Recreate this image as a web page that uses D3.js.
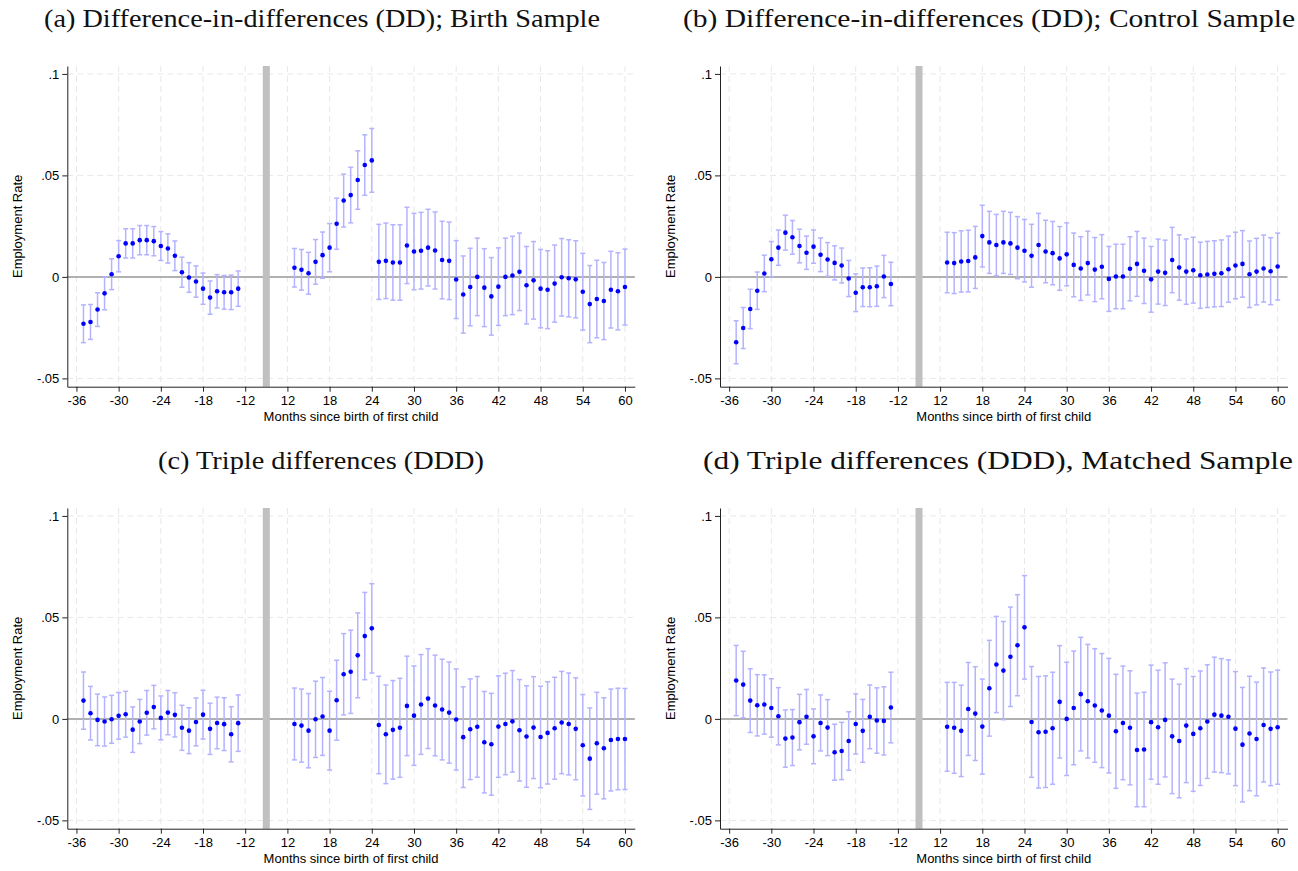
<!DOCTYPE html>
<html lang="en">
<head>
<meta charset="UTF-8">
<title>Employment Rate around first birth</title>
<script src="https://d3js.org/d3.v7.min.js"></script>
<style>
    body { margin: 0; background: white; }
    svg { display: block; background: white; }
    .title { font-family: "Liberation Serif", "Times New Roman", serif; font-size: 25px; fill: #111; }
    .axis text { font-family: "Liberation Sans", Arial, sans-serif; font-size: 13px; fill: #000; }
    .axis path, .axis line { stroke: #222; stroke-width: 1px; }
    .grid line { stroke: #e8e8e8; stroke-width: 1px; stroke-dasharray: 6,4; }
    .lab { font-family: "Liberation Sans", Arial, sans-serif; font-size: 13px; fill: #000; }
    .ci { stroke: #b3b3ff; stroke-width: 1.5px; fill: none; }
    .dot { fill: #0000ff; }
    .zero { stroke: #b0b0b0; stroke-width: 2px; }
    .gap { fill: #c0c0c0; }
</style>
</head>
<body>
<script>
// months relative to first birth (the axis skips -12..12)
const months = [-35,-34,-33,-32,-31,-30,-29,-28,-27,-26,-25,-24,-23,-22,-21,-20,-19,-18,-17,-16,-15,-14,-13,
    13,14,15,16,17,18,19,20,21,22,23,24,25,26,27,28,29,30,31,32,33,34,35,36,
    37,38,39,40,41,42,43,44,45,46,47,48,49,50,51,52,53,54,55,56,57,58,59,60];
const tickMonths = [-36,-30,-24,-18,-12,12,18,24,30,36,42,48,54,60];
const yTicks = [-0.05, 0, 0.05, 0.1];

const titles = [
    "(a) Difference-in-differences (DD); Birth Sample",
    "(b) Difference-in-differences (DD); Control Sample",
    "(c) Triple differences (DDD)",
    "(d) Triple differences (DDD), Matched Sample"
];

// point estimates and half-width of the 95% CI, panel a
const estA = [-.0231,-.0222,-.0161,-.0081,.0013,.0102,.0165,.0165,.0181,.0181,.0176,.0152,.0140,.0104,.0023,-.0003,-.0023,-.0058,-.0102,-.0071,-.0076,-.0076,-.0058,
    .0045,.0035,.0018,.0074,.0107,.0144,.0262,.0376,.0403,.0477,.0551,.0574,
    .0074,.0079,.0071,.0071,.0155,.0125,.0129,.0144,.0130,.0083,.0079,-.0013,
    -.0087,-.0050,.0000,-.0053,-.0096,-.0048,.0000,.0007,.0025,-.0041,-.0017,-.0058,
    -.0063,-.0033,-.0002,-.0007,-.0012,-.0073,-.0134,-.0109,-.0119,-.0063,-.0071,-.0050];
const ciA = [.0093,.0086,.0083,.0081,.0076,.0077,.0072,.0072,.0072,.0072,.0072,.0071,.0072,.0073,.0074,.0073,.0077,.0077,.0082,.0082,.0083,.0085,.0087,
    .0095,.0100,.0103,.0110,.0114,.0119,.0126,.0130,.0137,.0144,.0149,.0157,
    .0185,.0186,.0186,.0186,.0188,.0188,.0189,.0189,.0190,.0191,.0191,.0192,
    .0190,.0191,.0191,.0192,.0191,.0191,.0191,.0193,.0191,.0191,.0191,.0193,
    .0192,.0190,.0191,.0190,.0190,.0189,.0190,.0191,.0190,.0189,.0190,.0187];

// panel b
const estB = [-.0322,-.0252,-.0158,-.0068,.0017,.0087,.0144,.0218,.0195,.0152,.0119,.0149,.0109,.0086,.0069,.0056,-.0008,-.0078,-.0051,-.0051,-.0046,.0002,-.0035,
    .0071,.0068,.0076,.0078,.0096,.0201,.0170,.0157,.0170,.0165,.0144,.0129,
    .0104,.0157,.0125,.0117,.0091,.0111,.0059,.0041,.0068,.0036,.0050,-.0010,
    .0002,.0002,.0040,.0064,.0030,-.0012,.0026,.0020,.0083,.0046,.0026,.0033,
    .0008,.0012,.0015,.0018,.0038,.0056,.0064,.0013,.0026,.0041,.0028,.0051];
const ciB = [.0106,.0101,.0097,.0092,.0090,.0087,.0087,.0086,.0083,.0083,.0082,.0082,.0083,.0083,.0084,.0086,.0089,.0093,.0095,.0096,.0099,.0104,.0107,
    .0149,.0150,.0151,.0152,.0153,.0152,.0153,.0151,.0153,.0153,.0153,.0154,
    .0155,.0156,.0154,.0156,.0157,.0155,.0157,.0157,.0157,.0158,.0158,.0160,
    .0159,.0159,.0158,.0160,.0161,.0162,.0160,.0161,.0161,.0161,.0161,.0162,
    .0163,.0163,.0163,.0164,.0163,.0164,.0164,.0164,.0164,.0165,.0165,.0165];

// panel c
const estC = [.0090,.0028,-.0005,-.0013,-.0002,.0015,.0023,-.0053,-.0013,.0030,.0058,.0005,.0031,.0020,-.0044,-.0058,-.0015,.0021,-.0049,-.0020,-.0026,-.0076,-.0021,
    -.0025,-.0033,-.0058,-.0002,.0012,-.0058,.0092,.0220,.0232,.0313,.0408,.0446,
    -.0030,-.0076,-.0054,-.0044,.0064,.0016,.0071,.0100,.0066,.0046,.0031,-.0003,
    -.0090,-.0051,-.0039,-.0115,-.0125,-.0038,-.0025,-.0012,-.0056,-.0087,-.0043,-.0089,
    -.0069,-.0046,-.0018,-.0025,-.0049,-.0130,-.0196,-.0120,-.0145,-.0104,-.0099,-.0099];
const ciC = [.0141,.0132,.0127,.0121,.0118,.0115,.0113,.0112,.0109,.0110,.0107,.0108,.0109,.0109,.0111,.0113,.0118,.0120,.0126,.0127,.0130,.0136,.0139,
    .0177,.0180,.0183,.0188,.0192,.0194,.0197,.0200,.0205,.0209,.0215,.0220,
    .0240,.0243,.0243,.0244,.0245,.0245,.0246,.0246,.0248,.0248,.0249,.0249,
    .0248,.0248,.0248,.0250,.0251,.0250,.0250,.0250,.0250,.0250,.0251,.0250,
    .0252,.0251,.0252,.0251,.0251,.0250,.0250,.0251,.0249,.0251,.0250,.0249];

// panel d
const estD = [.0189,.0169,.0090,.0067,.0071,.0054,.0013,-.0097,-.0092,-.0016,.0010,-.0086,-.0020,-.0043,-.0164,-.0158,-.0109,-.0025,-.0059,.0010,-.0008,-.0010,.0056,
    -.0039,-.0044,-.0059,.0049,.0026,-.0038,.0151,.0268,.0238,.0306,.0363,.0451,
    -.0015,-.0066,-.0063,-.0046,.0084,.0000,.0054,.0122,.0087,.0066,.0041,.0016,
    -.0061,-.0020,-.0044,-.0153,-.0151,-.0016,-.0041,-.0005,-.0086,-.0109,-.0033,-.0074,
    -.0046,-.0013,.0021,.0016,.0010,-.0048,-.0127,-.0072,-.0099,-.0030,-.0049,-.0041];
const ciD = [.0173,.0164,.0157,.0151,.0146,.0144,.0141,.0141,.0138,.0137,.0135,.0135,.0138,.0138,.0138,.0141,.0144,.0148,.0155,.0157,.0161,.0168,.0174,
    .0219,.0224,.0225,.0229,.0231,.0234,.0236,.0237,.0242,.0245,.0249,.0255,
    .0273,.0275,.0275,.0276,.0277,.0279,.0280,.0280,.0280,.0280,.0281,.0282,
    .0281,.0280,.0281,.0280,.0282,.0281,.0281,.0281,.0282,.0280,.0281,.0283,
    .0282,.0280,.0283,.0281,.0281,.0281,.0282,.0282,.0280,.0281,.0280,.0281];

const panels = [
    {est: estA, ci: ciA, x: 67.3, y: 66,  tx: 322, ty: 27.3, tl: 556},
    {est: estB, ci: ciB, x: 720,  y: 66,  tx: 989, ty: 27.3, tl: 612},
    {est: estC, ci: ciC, x: 67.3, y: 508, tx: 321, ty: 469,  tl: 326},
    {est: estD, ci: ciD, x: 720,  y: 508, tx: 998, ty: 469,  tl: 590}
];

const width = 1298, height = 871;
const W = 567.5, H = 320.7;

const svg = d3.select("body").append("svg")
    .attr("width", width)
    .attr("height", height);

// the axis is broken: -12 and 12 sit six "months" apart
const pos = m => m <= -12 ? m : m - 18;

const xScale = d3.scaleLinear().domain([-37.3, 43.4]).range([0, W]);
const yScale = d3.scaleLinear().domain([-0.0541, 0.1039]).range([H, 0]);

const yFmt = v => v === 0 ? "0" : String(v).replace("0.", ".");

panels.forEach((p, k) => {
    //title
    svg.append("text")
        .attr("class", "title")
        .attr("x", p.tx)
        .attr("y", p.ty)
        .attr("text-anchor", "middle")
        .attr("textLength", p.tl)
        .attr("lengthAdjust", "spacingAndGlyphs")
        .text(titles[k]);

    const g = svg.append("g").attr("transform", `translate(${p.x},${p.y})`);

    //grid lines
    const grid = g.append("g").attr("class", "grid");
    grid.selectAll(".gx")
        .data(tickMonths)
        .enter()
        .append("line")
        .attr("x1", d => xScale(pos(d)))
        .attr("x2", d => xScale(pos(d)))
        .attr("y1", 0)
        .attr("y2", H);
    grid.selectAll(".gy")
        .data(yTicks.filter(d => d !== 0))
        .enter()
        .append("line")
        .attr("x1", 0)
        .attr("x2", W)
        .attr("y1", d => yScale(d))
        .attr("y2", d => yScale(d));

    //zero line
    g.append("line")
        .attr("class", "zero")
        .attr("x1", 0).attr("x2", W)
        .attr("y1", yScale(0)).attr("y2", yScale(0));

    //grey bar in the gap
    g.append("rect")
        .attr("class", "gap")
        .attr("x", xScale(-9.5))
        .attr("width", xScale(-8.5) - xScale(-9.5))
        .attr("y", 0)
        .attr("height", H);

    //axes
    g.append("g").attr("class", "axis")
        .attr("transform", `translate(0,${H})`)
        .call(d3.axisBottom(xScale)
            .tickValues(tickMonths.map(pos))
            .tickFormat((d, i) => tickMonths[i])
            .tickSize(5).tickSizeOuter(0).tickPadding(4));

    g.append("g").attr("class", "axis")
        .call(d3.axisLeft(yScale)
            .tickValues(yTicks)
            .tickFormat(yFmt)
            .tickSize(5).tickSizeOuter(0).tickPadding(3));

    //axis titles
    g.append("text")
        .attr("class", "lab")
        .attr("transform", `translate(-50,${H / 2}) rotate(-90)`)
        .attr("text-anchor", "middle")
        .attr("dominant-baseline", "central")
        .text("Employment Rate");
    g.append("text")
        .attr("class", "lab")
        .attr("x", W / 2)
        .attr("y", H + 34.5)
        .attr("text-anchor", "middle")
        .text("Months since birth of first child");

    //confidence intervals
    const pts = months.map((m, i) => ({m: m, est: p.est[i], ci: p.ci[i]}));
    const bars = g.append("g").attr("class", "ci")
        .selectAll("g")
        .data(pts)
        .enter()
        .append("g");
    bars.append("line")
        .attr("x1", d => xScale(pos(d.m)))
        .attr("x2", d => xScale(pos(d.m)))
        .attr("y1", d => yScale(d.est + d.ci))
        .attr("y2", d => yScale(d.est - d.ci));
    bars.append("line")
        .attr("x1", d => xScale(pos(d.m)) - 2.5)
        .attr("x2", d => xScale(pos(d.m)) + 2.5)
        .attr("y1", d => yScale(d.est + d.ci))
        .attr("y2", d => yScale(d.est + d.ci));
    bars.append("line")
        .attr("x1", d => xScale(pos(d.m)) - 2.5)
        .attr("x2", d => xScale(pos(d.m)) + 2.5)
        .attr("y1", d => yScale(d.est - d.ci))
        .attr("y2", d => yScale(d.est - d.ci));

    //point estimates
    g.append("g")
        .selectAll("circle")
        .data(pts)
        .enter()
        .append("circle")
        .attr("class", "dot")
        .attr("cx", d => xScale(pos(d.m)))
        .attr("cy", d => yScale(d.est))
        .attr("r", 2.3);
});
</script>
</body>
</html>
